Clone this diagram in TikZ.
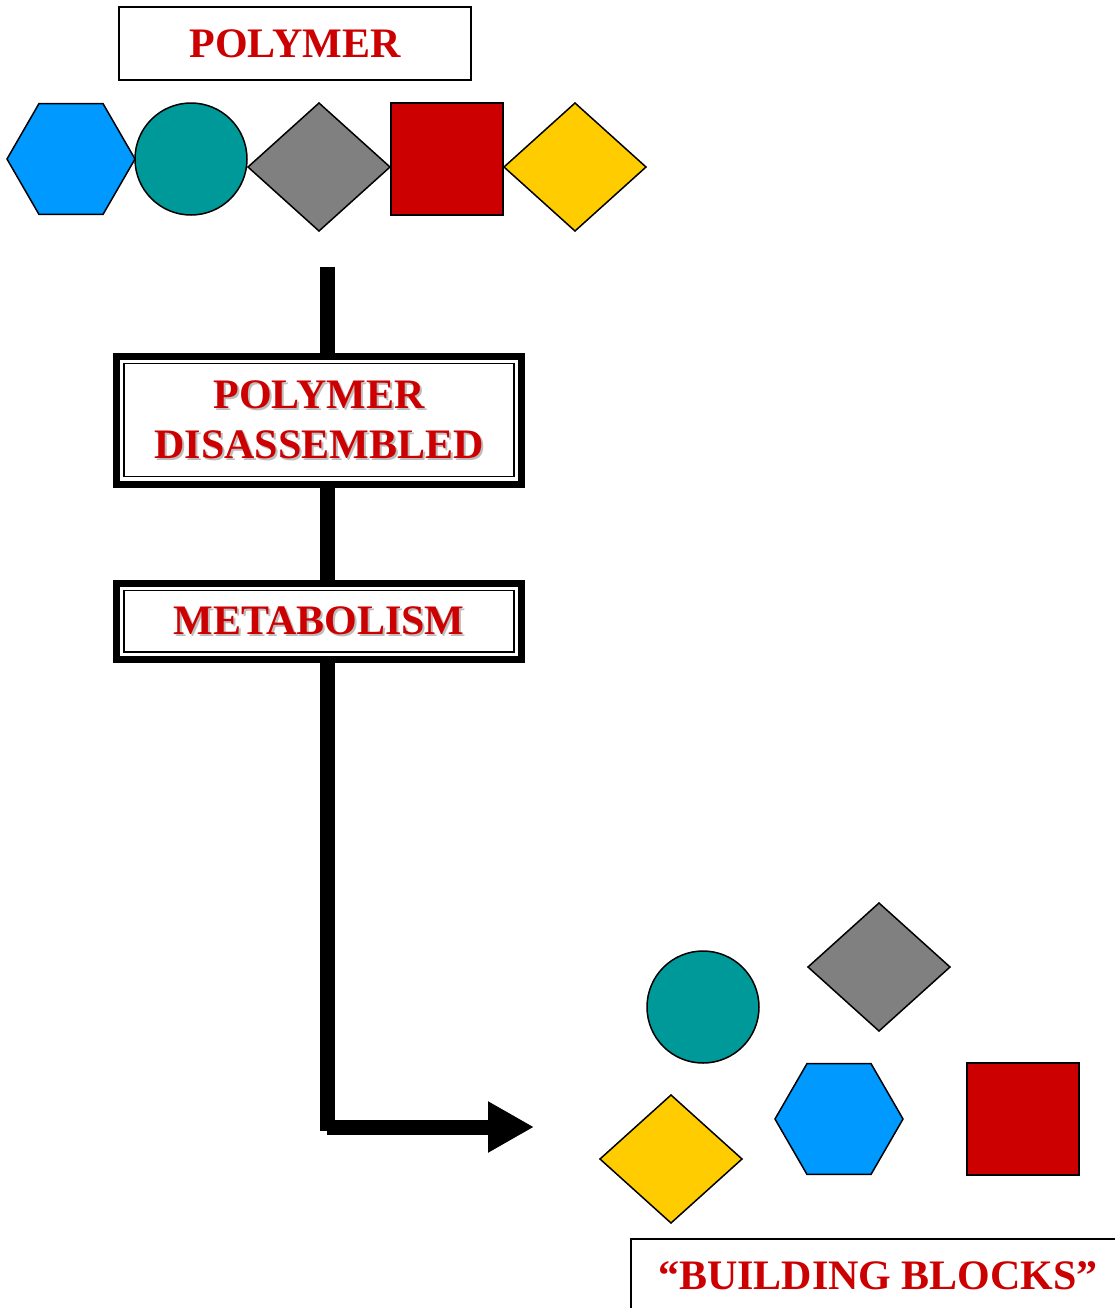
\documentclass[tikz,border=0pt]{standalone}
\usepackage{fontspec}
\setmainfont{Liberation Serif}
\usetikzlibrary{shapes.geometric,arrows.meta}

\definecolor{blockblue}{HTML}{0099FF}
\definecolor{blockteal}{HTML}{009999}
\definecolor{blockgray}{HTML}{808080}
\definecolor{blockred}{HTML}{CC0000}
\definecolor{blockyellow}{HTML}{FFCC00}
\definecolor{textred}{HTML}{CC0000}
\definecolor{shadowgray}{HTML}{BDBDBD}

\newcommand{\shadowed}[1]{\leavevmode\rlap{\kern1pt\raisebox{-1pt}{\textcolor{shadowgray}{#1}}}#1}

\tikzset{
    block/.style={draw, line width=0.75pt, inner sep=0pt, outer sep=0pt},
    hexa/.style={block, regular polygon, regular polygon sides=6, minimum size=64pt, fill=blockblue},
    ball/.style={block, circle, minimum size=56pt, fill=blockteal},
    gem/.style={block, diamond, minimum width=71pt, minimum height=64pt},
    cube/.style={block, rectangle, minimum size=56pt, fill=blockred},
    caption/.style={draw, line width=0.75pt, fill=white, inner sep=0pt, outer sep=0pt,
        text=textred, font=\fontsize{21pt}{25pt}\selectfont\bfseries},
    stage/.style={caption, line width=3.5pt, minimum width=202.5pt, align=center},
    flow/.style={line width=7.5pt}
}

\begin{document}
\begin{tikzpicture}[x=0.5pt, y=-0.5pt]
        \path[use as bounding box, clip] (0,0) rectangle (1115,1308);
        \node[caption, minimum width=176pt, minimum height=36.5pt] (polymer) at (295,43.5) {POLYMER};
        \node[hexa]                   (hexA)  at (71,159)  {};
        \node[ball]                   (ballA) at (191,159) {};
        \node[gem, fill=blockgray]    (gemA)  at (319,167) {};
        \node[cube]                   (cubeA) at (447,159) {};
        \node[gem, fill=blockyellow]  (gemB)  at (575,167) {};
        \node[stage, minimum height=64pt] (split) at (319,420.5)
            {\shadowed{POLYMER}\\\shadowed{DISASSEMBLED}};
        \node[stage, minimum height=38pt] (metab) at (319,621.5) {\shadowed{METABOLISM}};
        \draw[line width=0.75pt] ([xshift=3.75pt, yshift=-3.5pt]split.north west)
            rectangle ([xshift=-3.75pt, yshift=4pt]split.south east);
        \draw[line width=0.75pt] ([xshift=3.75pt, yshift=-3.5pt]metab.north west)
            rectangle ([xshift=-3.75pt, yshift=3.75pt]metab.south east);
        \coordinate (start) at (327,267);
        \coordinate (bend)  at (327,1127);
        \coordinate (tip)   at (534,1127);
        \draw[flow] (start) -- (start |- split.north);
        \draw[flow] (start |- split.south) -- (start |- metab.north);
        \draw[flow] (start |- metab.south) -- ([yshift=-2pt]bend);
        \draw[flow, -{Triangle[length=23pt, width=24pt]}] (bend) -- (tip);
        \node[ball]                   (ballB) at (703,1007) {};
        \node[gem, fill=blockgray]    (gemC)  at (879,967)  {};
        \node[gem, fill=blockyellow]  (gemD)  at (671,1159) {};
        \node[hexa]                   (hexB)  at (839,1119) {};
        \node[cube]                   (cubeB) at (1023,1119) {};
        \node[caption, minimum width=247pt, minimum height=37pt] (blocks) at (878,1276)
            {“BUILDING BLOCKS”};
\end{tikzpicture}
\end{document}
